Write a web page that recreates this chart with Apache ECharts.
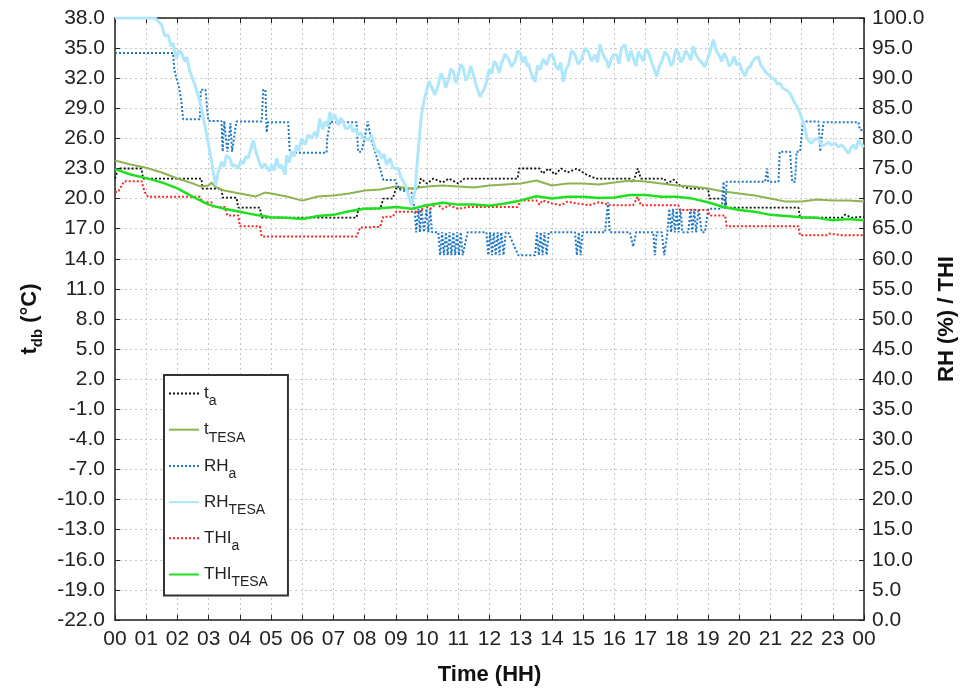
<!DOCTYPE html>
<html>
<head>
<meta charset="utf-8">
<script src="https://cdn.jsdelivr.net/npm/echarts@6/dist/echarts.min.js"></script>
<style>html,body{margin:0;padding:0;background:#fff}#c{width:969px;height:688px}</style>
</head>
<body>
<div id="c"></div>
<script>
// ---- tick labels ----
const hourLabels = ['00','01','02','03','04','05','06','07','08','09','10','11','12','13','14','15','16','17','18','19','20','21','22','23','00'];
const leftTicks = [-22,-19,-16,-13,-10,-7,-4,-1,2,5,8,11,14,17,20,23,26,29,32,35,38];
const seriesNames = ['t_a','t_TESA','RH_a','RH_TESA','THI_a','THI_TESA'];

// ---- data: [hour, value] ----
const ta = [[0,22.0],[0.1,23.0],[0.85,23.0],[0.9,22.0],[2.77,22.0],[2.8,21.0],[3.41,21.0],[3.45,20.1],[3.89,20.1],[3.95,19.1],[4.64,19.1],[4.7,18.1],[7.74,18.1],[7.8,19.0],[8.5,19.0],[8.6,20.0],[8.9,20.0],[9.0,21.0],[9.72,21.0],[9.8,22.0],[10.0,21.5],[10.2,22.0],[10.5,21.6],[10.7,22.0],[11.0,21.5],[11.2,22.0],[12.9,22.0],[12.95,23.0],[13.6,23.0],[13.7,22.5],[13.9,23.0],[14.1,22.4],[14.3,23.0],[14.5,22.6],[14.8,23.0],[15.1,22.4],[15.4,22.0],[16.5,22.0],[16.6,21.6],[16.75,23.0],[16.85,22.0],[17.6,22.0],[17.7,21.5],[17.9,21.9],[18.1,21.3],[18.4,21.0],[19.0,21.0],[19.05,20.0],[19.55,20.0],[19.6,19.1],[21.9,19.1],[21.95,18.1],[23.3,18.1],[23.4,18.4],[23.6,18.1],[24,18.2]];

const tTESA = [[0,23.8],[0.5,23.4],[1,23.07],[1.5,22.6],[2,22.0],[2.5,21.5],[2.75,21.2],[3.0,21.3],[3.1,21.6],[3.2,21.2],[3.5,20.8],[4,20.5],[4.5,20.2],[4.8,20.6],[5,20.5],[5.5,20.2],[6,19.8],[6.5,20.2],[7,20.3],[7.5,20.5],[8,20.8],[8.5,20.9],[9,21.2],[9.5,21.0],[10,21.2],[10.5,21.3],[11,21.2],[11.5,21.1],[12,21.3],[12.5,21.4],[13,21.5],[13.5,21.8],[14,21.3],[14.5,21.5],[15,21.5],[15.5,21.4],[16,21.6],[16.5,21.8],[17,21.7],[17.5,21.5],[18,21.3],[18.5,21.2],[19,21.0],[19.5,20.7],[20,20.5],[20.5,20.3],[21,20.0],[21.5,19.7],[22,19.7],[22.5,19.9],[23,19.8],[23.5,19.8],[24,19.7]];

const RHa = [[0,94.2],[0.85,94.2],[0.9,93.9],[0.95,94.2],[1.86,94.2],[1.9,91.5],[1.97,90.0],[2.05,88.5],[2.13,86.0],[2.18,83.2],[2.72,83.2],[2.75,88.1],[2.9,88.1],[2.99,82.9],[3.41,82.9],[3.45,77.8],[3.5,82.9],[3.6,77.8],[3.7,82.5],[3.75,77.8],[3.89,82.8],[4.7,82.8],[4.75,88.1],[4.82,88.1],[4.86,81.0],[4.9,82.7],[5.55,82.7],[5.6,77.8],[5.82,77.6],[6.78,77.6],[6.8,80.0],[6.9,82.8],[6.99,82.7],[7.74,82.7],[7.79,77.8],[7.9,77.8],[8.0,80.0],[8.1,82.8],[8.2,80.0],[8.38,77.0],[8.49,75.0],[8.6,73.1],[8.97,73.1],[9.1,71.5],[9.5,71.0],[9.6,68.3],[9.65,64.4],[9.72,68.3],[9.77,64.4],[9.82,68.3],[9.9,64.4],[9.98,68.3],[10.04,64.4],[10.1,68.3],[10.16,64.4],[10.36,64.4],[10.42,60.6],[10.48,64.4],[10.54,60.6],[10.6,64.4],[10.66,60.6],[10.72,64.4],[10.78,60.6],[10.84,64.4],[10.9,60.6],[10.96,64.4],[11.02,60.6],[11.08,64.4],[11.14,60.6],[11.3,64.4],[11.9,64.4],[11.96,60.6],[12.02,64.4],[12.08,60.6],[12.14,64.4],[12.2,60.6],[12.26,64.4],[12.32,60.6],[12.38,64.4],[12.45,60.6],[12.52,64.4],[12.6,64.4],[12.92,60.6],[13.46,60.6],[13.52,64.4],[13.58,60.6],[13.64,64.4],[13.7,60.6],[13.76,64.4],[13.83,60.6],[13.9,64.4],[14.74,64.4],[14.8,60.6],[14.86,64.4],[14.92,60.6],[14.98,64.4],[15.7,64.4],[15.8,69.4],[15.85,64.4],[16.5,64.4],[16.6,62.0],[16.7,64.4],[17.25,64.4],[17.3,60.6],[17.36,64.4],[17.52,64.4],[17.6,60.6],[17.7,64.4],[17.76,68.3],[17.82,64.4],[17.88,68.3],[17.94,64.4],[18.0,68.3],[18.06,64.4],[18.12,68.3],[18.18,64.4],[18.37,64.4],[18.44,68.3],[18.5,64.4],[18.56,68.3],[18.62,64.4],[18.7,68.3],[18.8,64.4],[18.9,64.4],[19.01,68.3],[19.44,68.3],[19.5,72.8],[19.55,68.3],[19.6,72.8],[20.83,72.8],[20.9,75.0],[20.93,72.8],[21.26,72.8],[21.3,77.8],[21.63,77.8],[21.7,72.8],[21.79,72.8],[21.84,77.8],[21.95,77.8],[22.05,82.8],[22.54,82.8],[22.6,77.8],[22.7,82.7],[23.82,82.7],[23.87,81.4],[24,81.4]];

const RHTESA = [[0,100],[1.28,100],[1.49,98.9],[1.6,97.0],[1.7,97.2],[1.8,95.3],[1.86,95.8],[1.97,93.3],[2.05,94.6],[2.13,94.2],[2.24,92.8],[2.3,93.5],[2.4,91.1],[2.56,88.9],[2.72,86.1],[2.88,82.2],[3.04,77.8],[3.15,74.4],[3.22,72.2],[3.31,74.4],[3.41,76.1],[3.5,75.3],[3.57,77.2],[3.68,76.7],[3.76,75.4],[3.84,75.6],[3.95,75.0],[4.03,76.3],[4.11,75.8],[4.19,77.0],[4.27,76.7],[4.35,78.2],[4.43,79.7],[4.53,77.5],[4.59,77.2],[4.7,75.0],[4.8,75.8],[4.86,76.1],[4.95,74.5],[5.02,75.6],[5.1,74.7],[5.18,76.7],[5.26,75.1],[5.34,75.6],[5.45,74.0],[5.5,77.2],[5.58,76.0],[5.66,77.8],[5.74,77.0],[5.82,78.9],[5.9,78.0],[5.98,80.0],[6.1,79.0],[6.19,80.6],[6.3,80.0],[6.4,81.1],[6.48,80.2],[6.56,83.3],[6.65,81.5],[6.73,82.8],[6.81,82.0],[6.89,84.4],[6.95,83.0],[7.05,83.9],[7.15,82.2],[7.23,83.4],[7.31,82.8],[7.39,81.6],[7.47,81.7],[7.55,82.3],[7.63,81.1],[7.71,81.6],[7.79,80.6],[7.87,81.0],[7.95,80.0],[8.01,79.7],[8.11,79.7],[8.22,80.6],[8.3,79.0],[8.38,77.8],[8.46,77.9],[8.54,76.7],[8.62,77.4],[8.7,75.6],[8.81,76.7],[8.9,75.2],[8.97,75.0],[9.08,75.0],[9.16,73.5],[9.24,72.8],[9.32,72.0],[9.4,70.6],[9.5,68.9],[9.61,71.1],[9.72,78.3],[9.82,83.9],[9.9,86.2],[9.98,87.8],[10.06,89.5],[10.14,88.6],[10.25,87.2],[10.36,88.9],[10.44,90.8],[10.52,90.0],[10.6,88.4],[10.68,89.7],[10.76,91.5],[10.84,91.1],[10.92,89.2],[11.0,90.6],[11.08,92.3],[11.16,91.7],[11.24,89.6],[11.32,90.3],[11.4,92.0],[11.48,90.6],[11.56,89.0],[11.64,87.8],[11.7,86.9],[11.75,87.5],[11.83,88.2],[11.91,89.4],[11.99,91.5],[12.07,90.8],[12.15,92.8],[12.23,92.2],[12.31,90.9],[12.39,92.5],[12.5,94.0],[12.6,93.3],[12.7,91.9],[12.82,92.8],[12.9,94.6],[12.98,94.2],[13.06,92.6],[13.14,93.6],[13.2,92.0],[13.24,92.5],[13.35,90.6],[13.46,89.4],[13.54,92.1],[13.62,91.4],[13.72,93.2],[13.83,92.2],[13.94,94.0],[14.04,93.6],[14.12,92.0],[14.2,91.4],[14.28,92.6],[14.37,89.4],[14.45,91.5],[14.53,92.2],[14.63,94.6],[14.74,93.9],[14.84,92.3],[14.95,93.1],[15.06,95.0],[15.17,94.4],[15.27,92.8],[15.38,93.9],[15.46,92.6],[15.54,95.6],[15.62,94.2],[15.7,93.3],[15.76,92.9],[15.81,91.7],[15.89,93.0],[15.97,93.9],[16.07,93.9],[16.15,92.4],[16.23,95.0],[16.34,95.6],[16.4,94.0],[16.45,92.8],[16.53,94.6],[16.61,93.3],[16.69,92.0],[16.77,94.4],[16.85,93.6],[16.93,92.8],[17.01,94.9],[17.09,94.4],[17.17,93.0],[17.25,91.9],[17.36,90.3],[17.44,92.0],[17.52,92.8],[17.62,94.4],[17.73,93.6],[17.81,92.0],[17.89,92.8],[17.97,94.8],[18.05,94.2],[18.13,92.6],[18.21,93.3],[18.29,94.6],[18.37,93.9],[18.45,93.0],[18.53,95.3],[18.61,94.0],[18.69,93.3],[18.8,92.6],[18.9,91.9],[18.98,93.1],[19.07,94.4],[19.17,96.4],[19.28,94.4],[19.36,93.8],[19.44,92.8],[19.52,94.2],[19.6,93.3],[19.68,92.0],[19.76,92.5],[19.84,93.6],[19.92,92.2],[20.0,92.6],[20.08,91.4],[20.19,90.3],[20.27,91.6],[20.35,91.9],[20.43,92.8],[20.51,93.3],[20.61,93.6],[20.69,92.2],[20.77,91.7],[20.85,91.0],[20.93,90.6],[21.04,90.1],[21.15,89.7],[21.23,89.0],[21.31,89.2],[21.39,88.4],[21.47,88.1],[21.55,87.9],[21.63,87.5],[21.71,86.6],[21.79,85.8],[21.87,85.2],[21.95,84.2],[22.03,83.0],[22.11,81.7],[22.16,80.3],[22.22,79.7],[22.32,79.2],[22.43,79.9],[22.54,80.0],[22.64,78.8],[22.75,78.9],[22.85,79.4],[22.96,78.9],[23.07,79.2],[23.18,78.6],[23.29,78.9],[23.39,78.3],[23.5,77.5],[23.58,78.4],[23.66,78.9],[23.74,78.2],[23.82,79.7],[23.91,79.0],[24,78.6]];

const THIa = [[0,71.1],[0.1,71.1],[0.3,72.9],[0.85,72.9],[0.95,71.1],[1.06,70.3],[2.72,70.3],[2.8,69.4],[3.09,69.4],[3.15,68.6],[3.52,68.6],[3.6,67.2],[3.95,67.2],[4.0,65.4],[4.64,65.4],[4.7,63.7],[7.74,63.7],[7.85,65.2],[8.49,65.3],[8.6,67.0],[8.9,67.0],[9.0,67.8],[9.8,67.8],[9.9,68.9],[10.1,68.3],[10.3,69.2],[10.5,68.3],[10.7,68.9],[11.0,68.3],[11.3,68.6],[12.9,68.6],[13.0,69.7],[13.5,69.7],[13.6,69.0],[13.7,69.7],[14.0,69.2],[14.3,68.9],[14.5,69.5],[14.8,69.2],[15.2,68.9],[15.5,69.4],[15.9,68.9],[16.6,68.9],[16.75,70.3],[16.85,68.9],[18.05,68.9],[18.1,68.1],[19.0,68.1],[19.05,67.2],[19.55,67.2],[19.6,65.4],[21.9,65.4],[21.95,63.9],[22.8,63.9],[22.9,64.2],[23.3,63.9],[24,63.9]];

const THITESA = [[0,74.9],[0.5,74.0],[1,73.4],[1.5,72.7],[2,71.7],[2.5,70.3],[3,69.0],[3.5,68.3],[4,67.8],[4.5,67.3],[5,66.9],[5.5,66.8],[6,66.6],[6.5,67.1],[7,67.3],[7.5,67.9],[8,68.3],[8.5,68.4],[9,68.6],[9.5,68.3],[10,68.9],[10.5,69.3],[11,69.0],[11.5,69.0],[12,68.8],[12.5,69.2],[13,69.7],[13.5,70.4],[14,70.0],[14.5,70.3],[15,70.3],[15.5,70.1],[16,70.2],[16.5,70.6],[17,70.6],[17.5,70.3],[18,70.3],[18.5,70.0],[19,69.4],[19.5,68.6],[20,68.1],[20.5,67.8],[21,67.3],[21.5,67.1],[22,66.9],[22.5,66.8],[23,66.4],[23.5,66.6],[24,66.4]];

const seriesData = [ta, tTESA, RHa, RHTESA, THIa, THITESA];
const seriesColors = ['#111111','#8db352','#1f78c4','#aee6fb','#ff2424','#1fe01f'];

const FONT = 'Liberation Sans, Arial, sans-serif';

const chart = echarts.init(document.getElementById('c'), null, {renderer:'canvas'});

const styles = [
  {axis:0, type:[2,2], width:1.8},
  {axis:0, type:'solid', width:2},
  {axis:1, type:[2,2], width:2},
  {axis:1, type:'solid', width:3},
  {axis:1, type:[2,2], width:2},
  {axis:1, type:'solid', width:2.5}
];

const option = {
  animation:false,
  backgroundColor:'#fff',
  grid:{left:115, right:105, top:18, bottom:68, containLabel:false, outerBoundsMode:'none'},
  legend:{
    orient:'vertical', left:164, top:375,
    itemWidth:30, itemHeight:14, itemGap:12.7,
    backgroundColor:'#fff', borderColor:'#333', borderWidth:2,
    padding:[10,20,6,4],
    data: seriesNames,
    itemStyle:{opacity:0},
    formatter: function(name){
      const p = name.split('_');
      return '{m|' + p[0] + '}{s|' + p[1] + '}';
    },
    textStyle:{
      rich:{
        m:{fontSize:17, lineHeight:30, fontFamily:FONT, color:'#222', verticalAlign:'middle'},
        s:{fontSize:14, lineHeight:12, fontFamily:FONT, color:'#222', verticalAlign:'bottom'}
      }
    }
  },
  xAxis:[
    {
      type:'value', min:0, max:24, interval:1, position:'bottom',
      name:'Time (HH)', nameLocation:'middle', nameGap:44,
      nameTextStyle:{fontSize:22, fontWeight:'bold', fontFamily:FONT, color:'#111'},
      axisLine:{show:true, onZero:false, lineStyle:{color:'#222', width:1.5}},
      axisTick:{show:true, inside:true, length:5, lineStyle:{color:'#222'}},
      axisLabel:{show:true, margin:9, fontSize:21, fontFamily:FONT, color:'#222',
        formatter:function(v){ return hourLabels[Math.round(v)]; }},
      splitLine:{show:true, lineStyle:{color:'#c6c6c6', type:[2,3], width:1}}
    },
    {
      type:'value', min:0, max:24, interval:1, position:'top',
      axisLine:{show:true, onZero:false, lineStyle:{color:'#222', width:1.5}},
      axisTick:{show:true, inside:true, length:5, lineStyle:{color:'#222'}},
      axisLabel:{show:false}, splitLine:{show:false}
    }
  ],
  yAxis:[
    {
      type:'value', min:-22, max:38, position:'left',
      name:'{b|t}{sub|db}{b| (°C)}', nameLocation:'middle', nameGap:70, nameRotate:90,
      nameTextStyle:{rich:{
        b:{fontSize:22, fontWeight:'bold', fontFamily:FONT, color:'#111', lineHeight:30, verticalAlign:'middle'},
        sub:{fontSize:15, fontWeight:'bold', fontFamily:FONT, color:'#111', lineHeight:14, verticalAlign:'bottom'}
      }},
      axisLine:{show:true, onZero:false, lineStyle:{color:'#222', width:1.5}},
      axisTick:{show:true, inside:true, length:5, customValues:leftTicks, lineStyle:{color:'#222'}},
      axisLabel:{show:true, margin:10, fontSize:21, fontFamily:FONT, color:'#222', customValues:leftTicks,
        formatter:function(v){ return v.toFixed(1); }},
      splitLine:{show:false}
    },
    {
      type:'value', min:0, max:100, interval:5, position:'right',
      name:'RH (%) / THI', nameLocation:'middle', nameGap:66, nameRotate:90,
      nameTextStyle:{fontSize:22, fontWeight:'bold', fontFamily:FONT, color:'#111'},
      axisLine:{show:true, onZero:false, lineStyle:{color:'#222', width:1.5}},
      axisTick:{show:true, inside:true, length:5, lineStyle:{color:'#222'}},
      axisLabel:{show:true, margin:8, fontSize:21, fontFamily:FONT, color:'#222',
        formatter:function(v){ return v.toFixed(1); }},
      splitLine:{show:true, lineStyle:{color:'#c6c6c6', type:[2,3], width:1}}
    }
  ],
  series: seriesNames.map(function(n, i){
    return {
      name:n, type:'line', xAxisIndex:0, yAxisIndex:styles[i].axis,
      data:seriesData[i], showSymbol:false, symbol:'none',
      color:seriesColors[i],
      lineStyle:{color:seriesColors[i], width:styles[i].width, type:styles[i].type},
      clip:true, z:2+i
    };
  })
};
chart.setOption(option);
</script>
</body>
</html>
